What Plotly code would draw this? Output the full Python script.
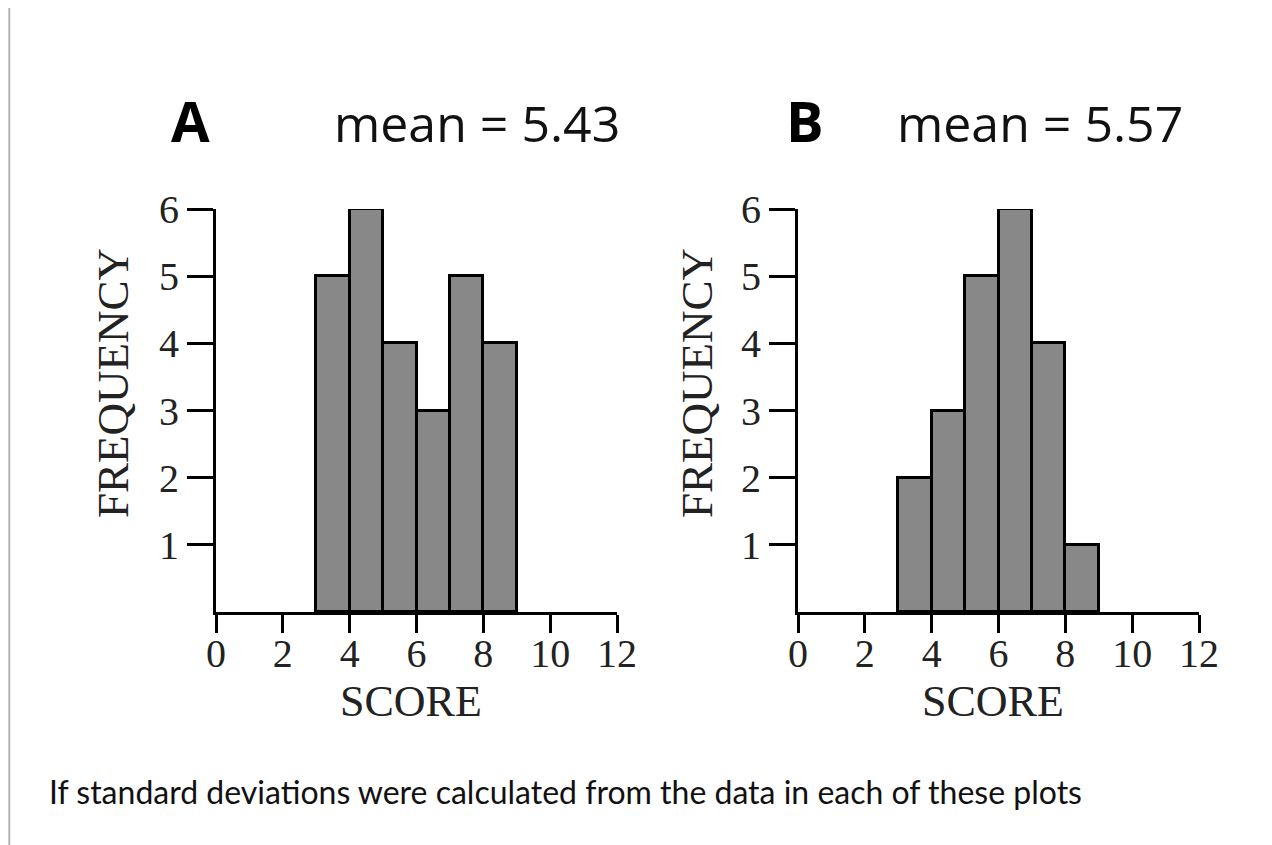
import plotly.graph_objects as go

# histogram data (bin left edges, width 1)
bin_centers = [3.5, 4.5, 5.5, 6.5, 7.5, 8.5]
counts_a = [5, 6, 4, 3, 5, 4]
counts_b = [2, 3, 5, 6, 4, 1]
x_ticks = [0, 2, 4, 6, 8, 10, 12]
y_ticks = [1, 2, 3, 4, 5, 6]
panel_letters = ["A", "B"]
panel_means = ["mean = 5.43", "mean = 5.57"]
question = "If standard deviations were calculated from the data in each of these plots"

W, H = 1272, 845
OFF = 8  # page body margin, subtract so positions land where the reference has them
serif = "Liberation Serif"
sans = "Open Sans"

fig = go.Figure()

for i, counts in enumerate([counts_a, counts_b]):
    fig.add_trace(go.Bar(
        x=bin_centers, y=counts, width=1,
        marker=dict(color="#888888", line=dict(color="black", width=3)),
        xaxis="x" if i == 0 else "x2",
        yaxis="y" if i == 0 else "y2",
        showlegend=False, hoverinfo="x+y",
    ))


def px_x(v):
    return (v - OFF) / W


def px_y(v):
    return 1 - (v - OFF) / H


# pixel positions of the plot areas (reference coords)
left_px = [(216, 617), (798, 1199)]
top_px, bottom_px = 209, 612
ydom = [px_y(bottom_px), px_y(top_px)]

xaxis_style = dict(range=[0, 12], tickvals=x_ticks, ticks="outside", ticklen=18, tickwidth=3,
                   tickcolor="black", showline=True, linecolor="black", linewidth=3,
                   showgrid=False, zeroline=False, fixedrange=True, automargin=False,
                   ticklabelstandoff=-14,
                   tickfont=dict(family=serif, size=40, color="#222"))
yaxis_style = dict(range=[0, 6], tickvals=y_ticks, ticks="outside", ticklen=26, tickwidth=3,
                   tickcolor="black", showline=True, linecolor="black", linewidth=3,
                   showgrid=False, zeroline=False, fixedrange=True, domain=ydom, automargin=False,
                   tickfont=dict(family=serif, size=40, color="#222"))

fig.update_layout(
    template="none",
    width=W, height=H,
    margin=dict(l=0, r=0, t=0, b=0, pad=0, autoexpand=False),
    plot_bgcolor="white", paper_bgcolor="white",
    bargap=0,
    xaxis=dict(domain=[px_x(left_px[0][0]), px_x(left_px[0][1])], anchor="y", **xaxis_style),
    yaxis=dict(anchor="x", **yaxis_style),
    xaxis2=dict(domain=[px_x(left_px[1][0]), px_x(left_px[1][1])], anchor="y2", **xaxis_style),
    yaxis2=dict(anchor="x2", **yaxis_style),
)

annotations = []
letter_x = [190, 805]
mean_x = [477, 1040]
freq_x = [113, 697]
score_x = [411, 993]


def label(text, px, py, font, angle=0, xanchor="center"):
    return dict(text=text, x=px_x(px), y=px_y(py), xref="paper", yref="paper",
                xanchor=xanchor, yanchor="middle", textangle=angle,
                showarrow=False, font=font)


for i in range(2):
    annotations.append(label("<b>%s</b>" % panel_letters[i], letter_x[i], 120,
                             dict(family=sans, size=56, color="black")))
    annotations.append(label(panel_means[i], mean_x[i], 123,
                             dict(family=sans, size=50, color="#111")))
    annotations.append(label("FREQUENCY", freq_x[i], 383,
                             dict(family=serif, size=45, color="#222"), angle=-90))
    annotations.append(label("SCORE", score_x[i], 701,
                             dict(family=serif, size=44, color="#222")))

annotations.append(label(question, 47, 791, dict(family="Lato", size=32, color="#111"),
                         xanchor="left"))
fig.update_layout(annotations=annotations)

# thin gray frame line at the left edge
fig.add_shape(type="line", xref="paper", yref="paper", x0=0.001, x1=0.001, y0=0, y1=1,
              line=dict(color="#b5b5b5", width=2))

fig.write_html("out.html")
